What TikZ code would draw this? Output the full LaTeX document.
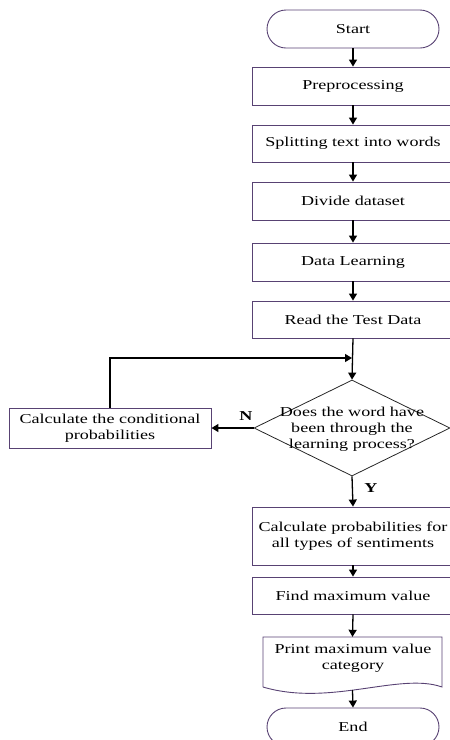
\documentclass[tikz,border=0pt]{standalone}
\usepackage{fontspec}
\setmainfont{Liberation Serif}[FakeStretch=1.33]
\usetikzlibrary{arrows.meta,shapes.geometric,shapes.misc}
\definecolor{boxc}{RGB}{88,66,115}
\begin{document}
\begin{tikzpicture}[x=1pt,y=-1pt,
  every node/.style={font=\fontsize{13.6}{16}\selectfont, inner sep=0pt, align=center},
  proc/.style={draw=boxc, line width=0.9pt, minimum width=202pt, minimum height=38pt},
  term/.style={draw=boxc, line width=0.9pt, rounded rectangle, minimum width=172pt, minimum height=38pt},
  conn/.style={line width=1.3pt, -{Triangle[width=8pt,length=7pt]}},
  lbl/.style={font=\fontsize{13.6}{16}\selectfont\bfseries}]
\useasboundingbox (0,0) rectangle (450,740);
\clip (0,0) rectangle (450,740);

\node[term] (start) at (353,29) {Start};
\node[proc] (pre) at (353,86) {Preprocessing};
\node[proc, minimum height=37pt] (split) at (353,143.5) {Splitting text into words};
\node[proc] (divide) at (353,201) {Divide dataset};
\node[proc] (learn) at (353,262) {Data Learning};
\node[proc, minimum height=37pt] (read) at (353,319.5) {Read the Test Data};
\coordinate (junc) at (352,358);
\node[diamond, draw=black!85, line width=0.8pt, minimum width=196pt, minimum height=96pt] (dec) at (352,428) {};
\node (dectext) at (352,429) {Does the word have\\been through the\\learning process?};
\node[proc, minimum height=40pt] (condp) at (110,428) {Calculate the conditional\\probabilities};
\node[lbl] (nlbl) at (246,416.5) {N};
\node[lbl] (ylbl) at (371,488) {Y};
\node[proc, minimum height=58pt] (calcp) at (353,536) {Calculate probabilities for\\all types of sentiments};
\node[proc, minimum height=37pt] (findmax) at (353,595.5) {Find maximum value};
\node[minimum width=179pt, minimum height=53pt] (print) at (352.5,663.5) {};
\node (printtext) at (353,658) {Print maximum value\\category};
\draw[draw=boxc, line width=0.9pt] (263,687) -- (263,637) -- (442,637) -- (442,687)
  .. controls (400,672) and (330,707) .. (263,687);
\node[term] (end) at (353,727) {End};

\draw[conn] (start.south) -- (pre.north);
\draw[conn] (pre.south) -- (split.north);
\draw[conn] (split.south) -- (divide.north);
\draw[conn] (divide.south) -- (learn.north);
\draw[conn] (learn.south) -- (read.north);
\draw[conn] (read.south) -- (dec.north);
\draw[conn] (condp.north) |- (junc);
\draw[conn] (dec.west) -- (condp.east);
\draw[conn] (dec.south) -- (calcp.north);
\draw[conn] (calcp.south) -- (findmax.north);
\draw[conn] (findmax.south) -- (print.north);
\draw[conn] (print.south) -- (end.north);
\end{tikzpicture}
\end{document}
